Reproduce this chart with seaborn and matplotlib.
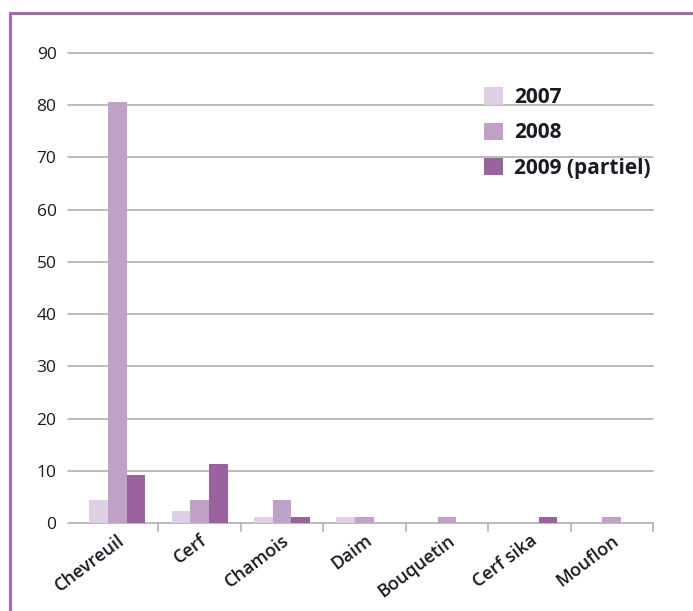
import matplotlib
matplotlib.use("Agg")
import matplotlib.pyplot as plt
import matplotlib.patches as mpatches
from matplotlib.lines import Line2D
import seaborn as sns
import pandas as pd
import numpy as np

categories = ["Chevreuil", "Cerf", "Chamois", "Daim", "Bouquetin", "Cerf sika", "Mouflon"]
series_names = ["2007", "2008", "2009 (partiel)"]
v2007 = [4.4, 2.3, 1.1, 1.1, 0, 0, 0]
v2008 = [80.6, 4.4, 4.4, 1.1, 1.1, 0, 1.1]
v2009 = [9.2, 11.3, 1.1, 0, 0, 1.1, 0]
y_ticks = [0, 10, 20, 30, 40, 50, 60, 70, 80, 90]

colors = ["#ddd0e4", "#c0a2c8", "#9b62a0"]
frame_color = "#a26dab"
text_color = "#1a1a24"

rows = []
for name, vals in zip(series_names, [v2007, v2008, v2009]):
    for c, v in zip(categories, vals):
        rows.append({"cat": c, "year": name, "val": v})
df = pd.DataFrame(rows)

sns.set_style("white")
plt.rcParams["font.family"] = ["Open Sans", "DejaVu Sans"]

W, H = 693, 611
fig = plt.figure(figsize=(W / 100, H / 100), dpi=100)
ax = fig.add_axes([76 / W, (H - 523) / H, (653 - 76) / W, (523 - 53) / H])

sns.barplot(data=df, x="cat", y="val", hue="year", order=categories,
            hue_order=series_names, palette=colors, width=0.68, gap=0,
            saturation=1, ax=ax, legend=False, zorder=3, linewidth=0,
            edgecolor="none")

ax.set_ylim(0, 90)
ax.set_xlim(-0.5, len(categories) - 0.5)
ax.set_yticks(y_ticks)
ax.set_yticklabels([str(t) for t in y_ticks], fontsize=12.5, fontweight="medium",
                   color=text_color)
for t in y_ticks:
    ax.add_line(Line2D([-0.6, len(categories) - 0.5], [t, t], color="#b5b5b5",
                       lw=1.3, zorder=1, clip_on=False))
ax.tick_params(axis="y", length=0, pad=14)
ax.tick_params(axis="x", length=0, pad=6)
ax.set_xticks(range(len(categories)))
ax.set_xticklabels(categories, rotation=37, ha="right", rotation_mode="anchor",
                   fontsize=13, fontweight="semibold", color=text_color)
# category boundary ticks
for b in range(1, len(categories) + 1):
    x = b - 0.5
    ax.add_line(Line2D([x, x], [0, -1.6], color="#b5b5b5", lw=1.3,
                       clip_on=False, zorder=1))
ax.set_xlabel("")
ax.set_ylabel("")
for s in ax.spines.values():
    s.set_visible(False)

handles = [mpatches.Patch(facecolor=c, edgecolor="none", label=n)
           for c, n in zip(colors, series_names)]
leg = fig.legend(handles=handles, loc="upper right", bbox_to_anchor=(659 / W, 1 - 79 / H),
                 frameon=False, prop={"weight": "bold", "size": 15},
                 handlelength=0.9, handleheight=0.9, handletextpad=0.55,
                 labelspacing=0.68, borderaxespad=0)
for t in leg.get_texts():
    t.set_color(text_color)

# purple frame (left and top)
fig.add_artist(Line2D([9.5 / W, 9.5 / W], [0, 1 - 12.5 / H], color=frame_color,
                      lw=2.2, transform=fig.transFigure))
fig.add_artist(Line2D([9.5 / W, 1], [1 - 12.5 / H, 1 - 12.5 / H], color=frame_color,
                      lw=2.2, transform=fig.transFigure))

fig.savefig("out.png", dpi=100)
